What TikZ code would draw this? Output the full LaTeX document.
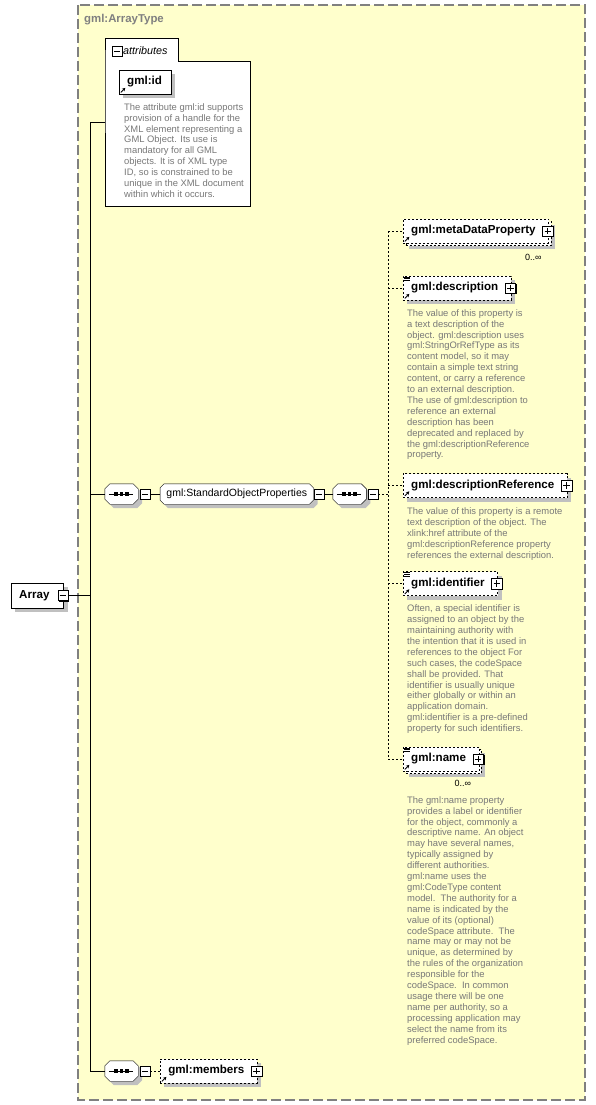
\documentclass[tikz,border=0pt]{standalone}
\usepackage{fontspec}
\setmainfont{Liberation Sans}
\usetikzlibrary{
    arrows.meta,
    shadows,
    positioning,
    calc,
    backgrounds
}
\definecolor{typeyellow}{RGB}{255,255,204}
\definecolor{typegray}{RGB}{128,128,128}
\definecolor{docgray}{RGB}{120,120,120}
\definecolor{shadowgray}{RGB}{192,192,192}
\tikzstyle{typeframe} = [
    draw=typegray,
    line width=1.2pt,
    dash pattern=on 10pt off 4pt,
    fill=typeyellow
]
\tikzstyle{elem} = [
    rectangle,
    draw=black,
    fill=white,
    minimum height=24pt,
    inner xsep=8pt,
    inner ysep=0pt,
    font=\fontsize{11.6}{13}\selectfont\bfseries,
    drop shadow={shadow xshift=4pt, shadow yshift=-4pt, fill=shadowgray, draw=none, opacity=1}
]
\tikzstyle{optelem} = [
    elem,
    dash pattern=on 2pt off 2pt
]
\tikzstyle{multielem} = [
    rectangle,
    draw=black,
    fill=white,
    dash pattern=on 2pt off 2pt,
    minimum height=24pt,
    inner xsep=8pt,
    inner ysep=0pt,
    font=\fontsize{11.6}{13}\selectfont\bfseries,
    drop shadow={shadow xshift=6pt, shadow yshift=-6pt, fill=shadowgray, draw=none, opacity=1},
    copy shadow={shadow xshift=2.5pt, shadow yshift=-2.5pt, draw=black, fill=white, dash pattern=on 2pt off 2pt, opacity=1}
]
\tikzstyle{plusbox} = [
    rectangle,
    draw=black,
    fill=white,
    minimum size=10.5pt,
    inner sep=0pt,
    drop shadow={shadow xshift=1.2pt, shadow yshift=-1.2pt, fill=black, draw=none, opacity=1},
    path picture={
        \draw[line width=0.8pt] ([xshift=2pt]path picture bounding box.west) -- ([xshift=-2pt]path picture bounding box.east);
        \draw[line width=0.8pt] ([yshift=-2pt]path picture bounding box.north) -- ([yshift=2pt]path picture bounding box.south);
    }
]
\tikzstyle{minusbox} = [
    rectangle,
    draw=black,
    fill=white,
    minimum size=10pt,
    inner sep=0pt,
    drop shadow={shadow xshift=1.2pt, shadow yshift=-1.2pt, fill=black, draw=none, opacity=1},
    path picture={
        \draw[line width=0.8pt] ([xshift=2pt]path picture bounding box.west) -- ([xshift=-2pt]path picture bounding box.east);
    }
]
\tikzstyle{seqcore} = [
    rectangle,
    minimum width=33pt,
    minimum height=20pt,
    inner sep=0pt
]
\tikzstyle{groupcore} = [
    rectangle,
    minimum width=153pt,
    minimum height=20pt,
    inner sep=1pt,
    font=\fontsize{10.5}{12}\selectfont
]
\tikzstyle{doc} = [
    anchor=north west,
    inner sep=0pt,
    align=left,
    text=docgray,
    font=\fontsize{9.4}{10.9}\selectfont
]
\tikzstyle{mult} = [
    inner sep=0pt,
    font=\fontsize{9}{10}\selectfont
]
\tikzstyle{dashline} = [
    dash pattern=on 2pt off 2pt
]
% octagon outline behind a node: node name, chamfer
\newcommand{\octagonbox}[2]{%
    \begin{pgfonlayer}{background}
        \fill[shadowgray, transform canvas={shift={(4pt,-4pt)}}] ([xshift=#2]#1.north west) -- ([xshift=-#2]#1.north east) -- ([yshift=-#2]#1.north east) -- ([yshift=#2]#1.south east) -- ([xshift=-#2]#1.south east) -- ([xshift=#2]#1.south west) -- ([yshift=#2]#1.south west) -- ([yshift=-#2]#1.north west) -- cycle;
        \draw[fill=white] ([xshift=#2]#1.north west) -- ([xshift=-#2]#1.north east) -- ([yshift=-#2]#1.north east) -- ([yshift=#2]#1.south east) -- ([xshift=-#2]#1.south east) -- ([xshift=#2]#1.south west) -- ([yshift=#2]#1.south west) -- ([yshift=-#2]#1.north west) -- cycle;
    \end{pgfonlayer}}
\newcommand{\seqdots}[1]{%
    \draw ([xshift=4pt]#1.west) -- ([xshift=-5pt]#1.east);
    \foreach \dx in {-5.5pt,0pt,5.5pt}
        \fill ([xshift=\dx]#1.center) +(-1.7pt,-1.6pt) rectangle +(1.7pt,1.6pt);}
\newcommand{\refglyph}[1]{%
    \draw[-{Stealth[length=3.2pt,width=3.6pt]}, line width=0.9pt] ([shift={(1.8pt,1.8pt)}]#1.south west) -- ++(4.5pt,4.5pt);}
\newcommand{\contglyph}[1]{%
    \foreach \k in {0,1,2}
        \draw[line width=0.6pt] ([shift={(1pt,{-1.2pt-\k*1.7pt})}]#1.north west) -- ++(6pt,0pt);}

\begin{document}
\begin{tikzpicture}[x=1pt, y=-1pt, line width=0.8pt]
    \useasboundingbox (0,0) rectangle (595,1105);

    % Complex type frame
    \begin{pgfonlayer}{background}
        \draw[typeframe] (78,5) rectangle (585,1100);
    \end{pgfonlayer}
    \node[anchor=base west, inner sep=0pt, text=typegray, font=\fontsize{11.4}{13}\selectfont\bfseries] (typename) at (84,23) {gml:ArrayType};

    % Attributes group
    \draw[fill=white] (105,61) -- (105,38) -- (178,38) -- (178,61) -- (250,61) -- (250,206) -- (105,206) -- cycle;
    \node[minusbox] (attrminus) at (117,51) {};
    \node[anchor=west, inner sep=1pt, font=\fontsize{10.8}{12}\selectfont\itshape] (attrlabel) at (122,51) {attributes};
    \coordinate (attrin) at (105,122);
    \node[elem, anchor=west] (gmlid) at (119,82) {gml:id\kern1pt};
    \refglyph{gmlid}
    \node[doc, below right=9pt and 5pt of gmlid.south west] (gmliddoc) {The attribute gml:id supports\\provision of a handle for the\\XML element representing a\\GML Object. Its use is\\mandatory for all GML\\objects. It is of XML type\\ID, so is constrained to be\\unique in the XML document\\within which it occurs.};

    % Root element
    \node[elem, anchor=west, minimum height=25pt] (array) at (11,595.5) {Array\kern6pt};
    \node[minusbox] (arrayminus) at ([xshift=-1pt]array.east) {};

    % Sequence with group
    \node[seqcore] (seq1) at (121.5,494) {};
    \octagonbox{seq1}{5pt}
    \seqdots{seq1}
    \node[minusbox, right=1.5pt of seq1] (seq1minus) {};
    \node[groupcore, right=10pt of seq1minus] (sop) {gml:StandardObjectProperties};
    \octagonbox{sop}{4pt}
    \node[minusbox, right=0pt of sop] (sopminus) {};
    \node[seqcore, right=9pt of sopminus] (seq2) {};
    \octagonbox{seq2}{5pt}
    \seqdots{seq2}
    \node[minusbox, right=1.5pt of seq2] (seq2minus) {};

    % Group members
    \node[multielem, anchor=west] (mdp) at (403,231) {gml:metaDataProperty\kern5pt};
    \node[plusbox] (mdpplus) at ([xshift=-1pt]mdp.east) {};
    \refglyph{mdp}
    \node[mult, below left=11pt and 7pt of mdp.south east] (mdpmult) {0..∞};

    \node[optelem, anchor=west] (desc) at (403,288) {gml:description\kern5pt};
    \node[plusbox] (descplus) at ([xshift=-1pt]desc.east) {};
    \refglyph{desc}
    \contglyph{desc}
    \node[doc, below right=9pt and 4pt of desc.south west] (descdoc) {The value of this property is\\a text description of the\\object. gml:description uses\\gml:StringOrRefType as its\\content model, so it may\\contain a simple text string\\content, or carry a reference\\to an external description.\\The use of gml:description to\\reference an external\\description has been\\deprecated and replaced by\\the gml:descriptionReference\\property.};

    \node[optelem, anchor=west] (dref) at (403,485.5) {gml:descriptionReference\kern5pt};
    \node[plusbox] (drefplus) at ([xshift=-1pt]dref.east) {};
    \refglyph{dref}
    \node[doc, below right=10pt and 4pt of dref.south west] (drefdoc) {The value of this property is a remote\\text description of the object. The\\xlink:href attribute of the\\gml:descriptionReference property\\references the external description.};

    \node[optelem, anchor=west] (ident) at (403,583.5) {gml:identifier\kern5pt};
    \node[plusbox] (identplus) at ([xshift=-1pt]ident.east) {};
    \refglyph{ident}
    \contglyph{ident}
    \node[doc, below right=9pt and 4pt of ident.south west] (identdoc) {Often, a special identifier is\\assigned to an object by the\\maintaining authority with\\the intention that it is used in\\references to the object For\\such cases, the codeSpace\\shall be provided. That\\identifier is usually unique\\either globally or within an\\application domain.\\gml:identifier is a pre-defined\\property for such identifiers.};

    \node[multielem, anchor=west] (name) at (403,759) {gml:name\kern5pt};
    \node[plusbox] (nameplus) at ([xshift=-1pt]name.east) {};
    \refglyph{name}
    \contglyph{name}
    \node[mult, below left=9pt and 8pt of name.south east] (namemult) {0..∞};
    \node[doc, below right=25pt and 4pt of name.south west] (namedoc) {The gml:name property\\provides a label or identifier\\for the object, commonly a\\descriptive name. An object\\may have several names,\\typically assigned by\\different authorities.\\gml:name uses the\\gml:CodeType content\\model.\ \ The authority for a\\name is indicated by the\\value of its (optional)\\codeSpace attribute.\ \ The\\name may or may not be\\unique, as determined by\\the rules of the organization\\responsible for the\\codeSpace.\ \ In common\\usage there will be one\\name per authority, so a\\processing application may\\select the name from its\\preferred codeSpace.};

    % Second sequence
    \node[seqcore] (seq3) at (121.5,1071) {};
    \octagonbox{seq3}{5pt}
    \seqdots{seq3}
    \node[minusbox, right=1.5pt of seq3] (seq3minus) {};
    \node[optelem, right=10pt of seq3minus] (members) {gml:members\kern5pt};
    \node[plusbox] (membersplus) at ([xshift=-1pt]members.east) {};
    \refglyph{members}

    % Connectors
    \coordinate (bus) at (90,122);
    \draw (attrin) -- (bus) -- (bus |- seq3.west) -- (seq3.west);
    \draw (arrayminus.east) -- (arrayminus.east -| bus);
    \draw (seq1.west) -- (seq1.west -| bus);
    \draw (seq1minus.east) -- (sop.west);
    \draw (sopminus.east) -- (seq2.west);
    \coordinate (dbus) at (388,231);
    \draw[dashline] (seq2minus.east) -- (seq2minus.east -| dbus);
    \draw[dashline] (mdp.west -| dbus) -- (name.west -| dbus);
    \foreach \n in {mdp,desc,dref,ident,name}
        \draw[dashline] (\n.west -| dbus) -- (\n.west);
    \draw[dashline] (seq3minus.east) -- (members.west);
\end{tikzpicture}
\end{document}
